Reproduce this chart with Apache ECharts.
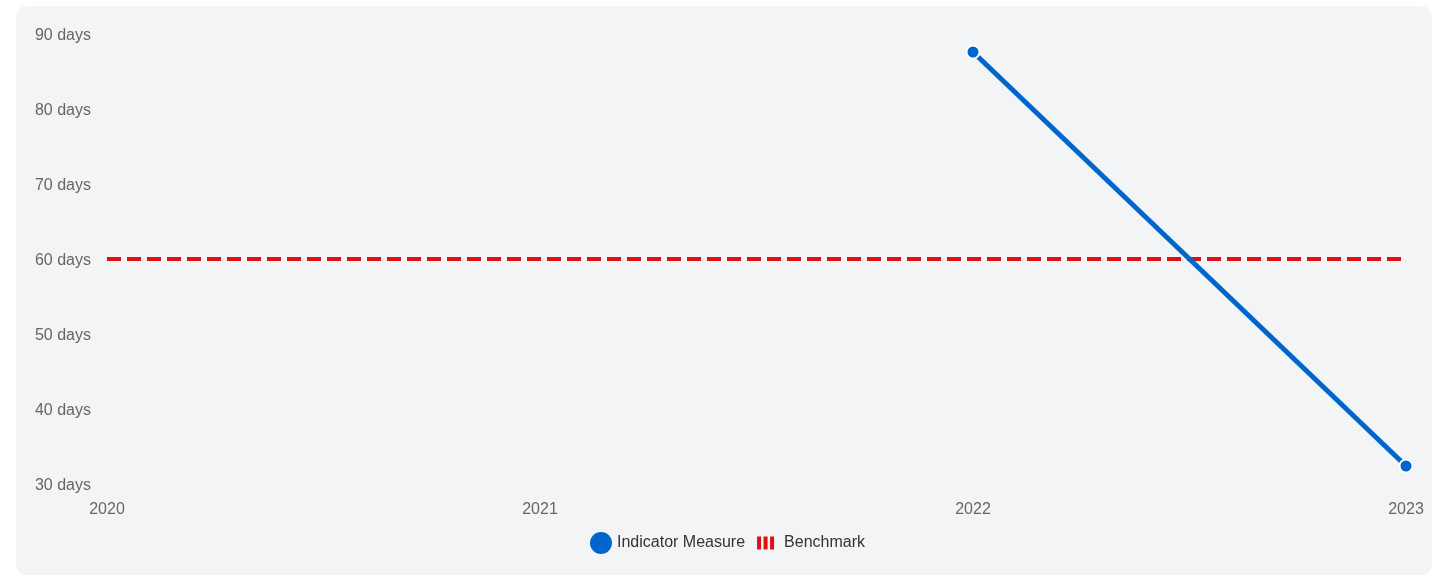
<!DOCTYPE html>
<html><head><meta charset="utf-8">
<script src="https://cdn.jsdelivr.net/npm/echarts@6/dist/echarts.min.js"></script>
<style>
html,body{margin:0;padding:0;background:#fff;}
#bg{position:absolute;left:16px;top:6px;width:1416px;height:569px;background:#f3f4f6;border-radius:10px;}
#c{position:absolute;left:0;top:0;width:1435px;height:576px;}
</style></head>
<body><div id="bg"></div><div id="c"></div>
<script>
const years = ['2020','2021','2022','2023'];
const indicator = [null, null, 87.6, 32.4];
const benchmark = [60, 60, 60, 60];
const yTicks = [30, 40, 50, 60, 70, 80, 90];

const FONT = '"Liberation Sans", Arial, sans-serif';
const chart = echarts.init(document.getElementById('c'));
chart.setOption({
  backgroundColor: 'transparent',
  animation: false,
  grid: {left: 107, right: 29, top: 34, bottom: 92, containLabel: false},
  legend: {
    top: 527, left: 585, itemGap: 12, itemWidth: 22, itemHeight: 22,
    itemStyle: {borderWidth: 0},
    textStyle: {color: '#333', fontSize: 16, fontFamily: FONT},
    data: [
      {name: 'Indicator Measure', icon: 'circle'},
      {name: 'Benchmark', icon: 'path://M0,0L0,0M22,22L22,22M0,4.5h4v13h-4zM6.5,4.5h4v13h-4zM13,4.5h4v13h-4z'}
    ]
  },
  xAxis: {
    type: 'category', data: years, boundaryGap: false,
    axisLine: {show: false}, axisTick: {show: false}, splitLine: {show: false},
    axisLabel: {color: '#666', fontSize: 16, margin: 18, fontFamily: FONT}
  },
  yAxis: {
    type: 'value', min: yTicks[0], max: yTicks[yTicks.length-1], interval: 10,
    axisLine: {show: false}, axisTick: {show: false}, splitLine: {show: false},
    axisLabel: {
      color: '#666', fontSize: 16, margin: 16, fontFamily: FONT,
      formatter: v => '{a|' + v + ' days}',
      rich: {a: {color: '#666', fontSize: 16, fontFamily: FONT, padding: [4, 0, 0, 0]}}
    }
  },
  series: [
    {
      name: 'Indicator Measure', type: 'line', data: indicator,
      connectNulls: false, symbol: 'circle', symbolSize: 13,
      lineStyle: {color: '#0066cc', width: 5},
      itemStyle: {color: '#0066cc', borderColor: '#fff', borderWidth: 2},
      z: 3
    },
    {
      name: 'Benchmark', type: 'line', data: benchmark, symbol: 'none',
      lineStyle: {color: '#dd1111', width: 4, type: [14, 6]},
      itemStyle: {color: '#dd1111'},
      z: 2
    }
  ]
});
</script></body></html>
